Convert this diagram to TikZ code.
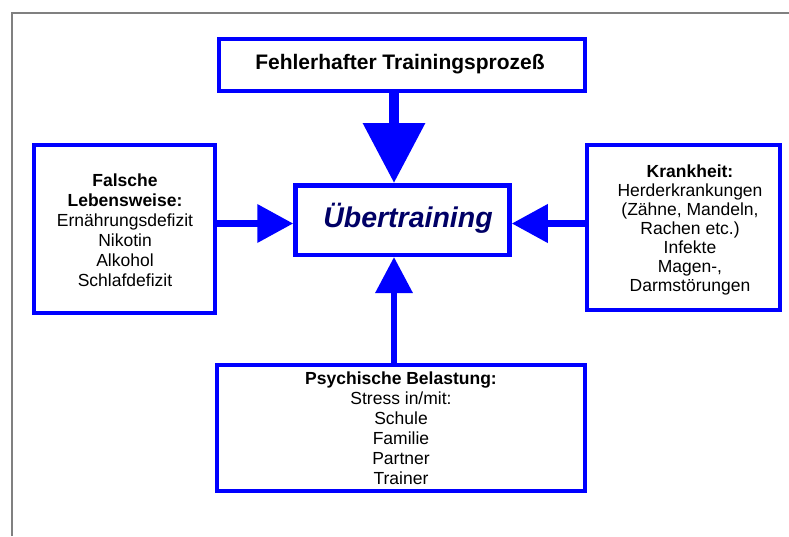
\documentclass[tikz,border=0pt]{standalone}
\usepackage{fontspec}
\setmainfont{Liberation Sans}
\usetikzlibrary{arrows.meta}
\definecolor{boxblue}{RGB}{0,0,255}
\definecolor{navy}{RGB}{0,0,102}
\definecolor{framegray}{RGB}{128,128,128}
\begin{document}
\begin{tikzpicture}[x=1pt,y=-1pt,
  box/.style={draw=boxblue, line width=4pt, fill=white, inner sep=0pt},
  txt/.style={align=center, inner sep=0pt, font=\fontsize{17.5}{20}\selectfont},
  conn/.style={draw=boxblue, line width=#1},
  bighead/.style={-{Triangle[length=60pt,width=60pt]}},
  smallhead/.style={-{Triangle[length=36pt,width=37pt]}}
]
\useasboundingbox (0,0) rectangle (789,536);
% outer frame
\draw[framegray, line width=2pt] (12,536) -- (12,13) -- (789,13);

% boxes
\node[box, minimum width=366pt, minimum height=52pt] (top) at (402,65) {};
\node[font=\fontsize{21}{25}\selectfont\bfseries, inner sep=0pt] (toptxt) at (400,64) {Fehlerhafter Trainingsprozeß};

\node[box, line width=4.5pt, minimum width=214pt, minimum height=69.5pt] (ctr) at (402.5,220) {};
\node[font=\fontsize{28.5}{32}\selectfont\bfseries\itshape, text=navy, inner sep=0pt] (ctrtxt) at (408,218) {Übertraining};

\node[box, minimum width=181pt, minimum height=168pt] (left) at (124.5,229) {};
\node[txt] (lefttxt) at (125,230) {\textbf{Falsche}\\\textbf{Lebensweise:}\\Ernährungsdefizit\\Nikotin\\Alkohol\\Schlafdefizit};

\node[box, minimum width=193pt, minimum height=165pt] (right) at (683.5,227.5) {};
\node[txt, font=\fontsize{17.5}{19}\selectfont] (righttxt) at (690,230) {\textbf{Krankheit:}\\Herderkrankungen\\(Zähne, Mandeln,\\Rachen etc.)\\Infekte\\Magen-,\\Darmstörungen};

\node[box, minimum width=368pt, minimum height=126pt] (bot) at (401,428) {};
\node[txt] (bottxt) at (401,428.5) {\textbf{Psychische Belastung:}\\Stress in/mit:\\Schule\\Familie\\Partner\\Trainer};

% connector axes
\coordinate (vx) at (394,0);
\coordinate (hy) at (0,223.5);

% connectors
\draw[conn=10pt, bighead] (top.south -| vx) -- (ctr.north -| vx);
\draw[conn=7pt, smallhead] (left.east |- hy) -- (ctr.west |- hy);
\draw[conn=7pt, smallhead] (right.west |- hy) -- (ctr.east |- hy);
\draw[conn=6.5pt, -{Triangle[length=36pt,width=36pt]}] (bot.north -| vx) -- (ctr.south -| vx);
\end{tikzpicture}
\end{document}
